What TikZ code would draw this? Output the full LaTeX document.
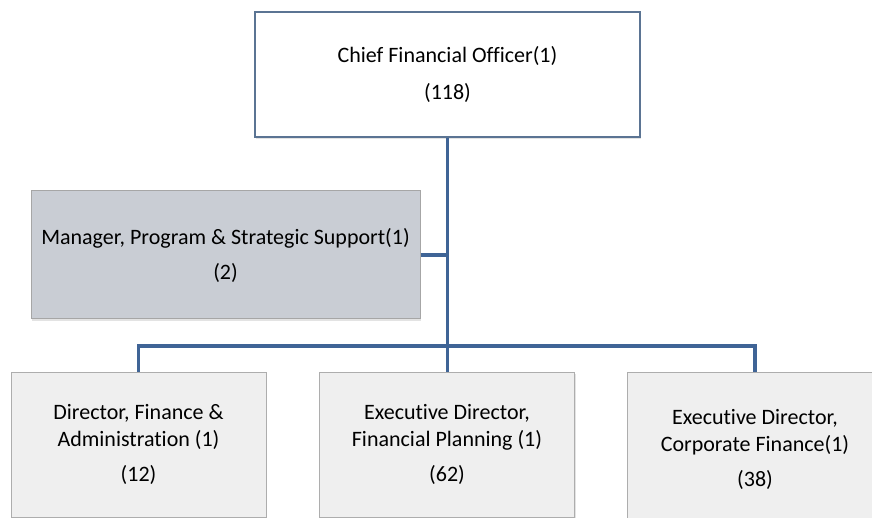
\documentclass[tikz,border=0pt]{standalone}
\usepackage{fontspec}
\setmainfont[Ligatures=NoCommon]{Carlito}
\usetikzlibrary{shadows}

\definecolor{linkblue}{HTML}{3F6496}
\definecolor{headline}{HTML}{5B7493}
\definecolor{staffgray}{HTML}{C9CDD4}
\definecolor{unitgray}{HTML}{EFEFEF}

\tikzstyle{orgbox} = [rectangle, align=center, inner sep=2pt,
	font=\fontsize{22}{27}\selectfont,
	drop shadow={opacity=0.22, shadow xshift=1.2pt, shadow yshift=-1.8pt}]
\tikzstyle{head} = [orgbox, draw=headline, line width=1.6pt, fill=white,
	minimum width=385pt, minimum height=125pt]
\tikzstyle{staff} = [orgbox, draw=black!35, line width=1pt, fill=staffgray,
	minimum width=389pt, minimum height=128pt]
\tikzstyle{unit} = [orgbox, draw=black!32, line width=1pt, fill=unitgray,
	minimum width=255pt, minimum height=145pt]
\tikzstyle{link} = [draw=linkblue, line width=3.2pt]

\begin{document}
\begin{tikzpicture}[x=1pt, y=-1pt]
	\useasboundingbox (0,0) rectangle (872,518);

	\node[head] (cfo) at (447.5,74.5)
		{Chief Financial Officer(1)\\[10pt](118)};
	\node[staff] (mps) at (225.5,255)
		{Manager, Program \& Strategic Support(1)\\[8pt](2)};

	\node[unit] (fa) at (138.5,444.5)
		{Director, Finance \&\\Administration (1)\\[8pt](12)};
	\node[unit] (fp) at (447,444.5)
		{Executive Director,\\Financial Planning (1)\\[8pt](62)};
	\node[unit, minimum height=154pt] (cf) at (755,449)
		{Executive Director,\\Corporate Finance(1)\\[8pt](38)};

	\coordinate (bus) at (447,346);

	\path[link] (cfo.south) -- (cfo.south |- fp.north);
	\path[link] (mps.east) -- (mps.east -| cfo.south);
	\path[link] (fa.north) |- (bus) -| (cf.north);
\end{tikzpicture}
\end{document}
